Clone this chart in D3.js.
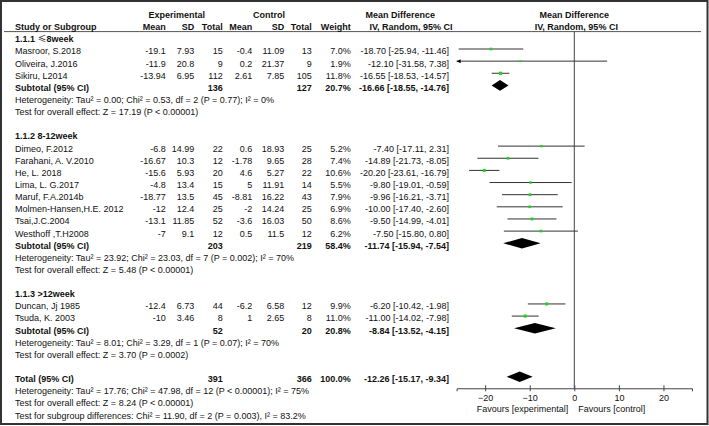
<!DOCTYPE html>
<html>
<head>
<meta charset="utf-8">
<script src="https://cdn.jsdelivr.net/npm/d3@7/dist/d3.min.js"></script>
<style>
  html, body { margin: 0; padding: 0; background: #fff; }
  svg { display: block; font-family: "Liberation Sans", Arial, sans-serif; }
</style>
</head>
<body>
<svg id="chart" width="709" height="426"></svg>
<script>
// ---------------- data ----------------
const studyNames = ["Masroor, S.2018", "Oliveira, J.2016", "Sikiru, L2014",
  "Dimeo, F.2012", "Farahani, A. V.2010", "He, L. 2018", "Lima, L. G.2017", "Maruf, F.A.2014b",
  "Molmen-Hansen,H.E. 2012", "Tsai,J.C.2004", "Westhoff ,T.H2008",
  "Duncan, Jj 1985", "Tsuda, K. 2003"];
const studyGroup = [0, 0, 0, 1, 1, 1, 1, 1, 1, 1, 1, 2, 2];
const expMean = [-19.1, -11.9, -13.94, -6.8, -16.67, -15.6, -4.8, -18.77, -12, -13.1, -7, -12.4, -10];
const expSD = [7.93, 20.8, 6.95, 14.99, 10.3, 5.93, 13.4, 13.5, 12.4, 11.85, 9.1, 6.73, 3.46];
const expTotal = [15, 9, 112, 22, 12, 20, 15, 45, 25, 52, 12, 44, 8];
const ctlMean = [-0.4, 0.2, 2.61, 0.6, -1.78, 4.6, 5, -8.81, -2, -3.6, 0.5, -6.2, 1];
const ctlSD = [11.09, 21.37, 7.85, 18.93, 9.65, 5.27, 11.91, 16.22, 14.24, 16.03, 11.5, 6.58, 2.65];
const ctlTotal = [13, 9, 105, 25, 28, 22, 14, 43, 25, 50, 12, 12, 8];
const weightPct = [7.0, 1.9, 11.8, 5.2, 7.4, 10.6, 5.5, 7.9, 6.9, 8.6, 6.2, 9.9, 11.0];
const mdEst = [-18.70, -12.10, -16.55, -7.40, -14.89, -20.20, -9.80, -9.96, -10.00, -9.50, -7.50, -6.20, -11.00];
const mdLow = [-25.94, -31.58, -18.53, -17.11, -21.73, -23.61, -19.01, -16.21, -17.40, -14.99, -15.80, -10.42, -14.02];
const mdHigh = [-11.46, 7.38, -14.57, 2.31, -8.05, -16.79, -0.59, -3.71, -2.60, -4.01, 0.80, -1.98, -7.98];

const groupPrefix = ["1.1.1 ", "1.1.2 ", "1.1.3 "];
const groupLabels = ["\u22648week", "8-12week", ">12week"];
const subExpTotal = [136, 203, 52];
const subCtlTotal = [127, 219, 20];
const subWeight = [20.7, 58.4, 20.8];
const subEst = [-16.66, -11.74, -8.84];
const subLow = [-18.55, -15.94, -13.52];
const subHigh = [-14.76, -7.54, -4.15];
const subHet = [
  "Heterogeneity: Tau\u00b2 = 0.00; Chi\u00b2 = 0.53, df = 2 (P = 0.77); I\u00b2 = 0%",
  "Heterogeneity: Tau\u00b2 = 23.92; Chi\u00b2 = 23.03, df = 7 (P = 0.002); I\u00b2 = 70%",
  "Heterogeneity: Tau\u00b2 = 8.01; Chi\u00b2 = 3.29, df = 1 (P = 0.07); I\u00b2 = 70%"];
const subZ = [
  "Test for overall effect: Z = 17.19 (P < 0.00001)",
  "Test for overall effect: Z = 5.48 (P < 0.00001)",
  "Test for overall effect: Z = 3.70 (P = 0.0002)"];

const totalExpN = 391, totalCtlN = 366, totalWeight = 100.0;
const totalEst = -12.26, totalLow = -15.17, totalHigh = -9.34;
const totalNotes = [
  "Heterogeneity: Tau\u00b2 = 17.76; Chi\u00b2 = 47.98, df = 12 (P < 0.00001); I\u00b2 = 75%",
  "Test for overall effect: Z = 8.24 (P < 0.00001)",
  "Test for subgroup differences: Chi\u00b2 = 11.90, df = 2 (P = 0.003), I\u00b2 = 83.2%"];

const tickValues = [-20, -10, 0, 10, 20];
const axisLimit = 26.4;
const favourLabels = ["Favours [experimental]", "Favours [control]"];

// ---------------- layout ----------------
const svg = d3.select("#chart");
const FS = 9;
const textColor = "#111";
const rowY = i => 12.58 + 12.14 * i;     // centre line of row i
const baseY = i => rowY(i) + 5.4;       // text baseline of row i

const x = d3.scaleLinear().domain([-axisLimit, axisLimit]).range([456.6, 692.0]);

const col = { name: 15, eMean: 165.7, eSD: 194.3, eTot: 222.7, cMean: 252.3, cSD: 284.3, cTot: 311.7, wt: 350.7, ci: 449 };

// build rows
const rows = [];
let r = 2;
groupLabels.forEach((gl, g) => {
  rows.push({ type: "group", i: r++, g });
  studyNames.forEach((n, s) => {
    if (studyGroup[s] === g) rows.push({ type: "study", i: r++, s });
  });
  rows.push({ type: "sub", i: r++, g });
  rows.push({ type: "note", i: r++, label: subHet[g] });
  rows.push({ type: "note", i: r++, label: subZ[g] });
  r++;
});
rows.push({ type: "total", i: r++ });
totalNotes.forEach(t => rows.push({ type: "note", i: r++, label: t }));
const totalRow = rows.find(d => d.type === "total").i;

// border
svg.append("rect").attr("x", 1).attr("y", 1).attr("width", 706.5).attr("height", 423)
  .attr("fill", "none").attr("stroke", "#333").attr("stroke-width", 2);

// header line
const headerLineY = 31.6;
svg.append("line").attr("x1", 4).attr("x2", 701).attr("y1", headerLineY).attr("y2", headerLineY)
  .attr("stroke", "#555").attr("stroke-width", 1);

function txt(xp, i, s, anchor, bold) {
  return svg.append("text").attr("x", xp).attr("y", baseY(i)).text(s)
    .attr("font-size", FS).attr("fill", textColor)
    .attr("text-anchor", anchor || "start").attr("font-weight", bold ? "bold" : "normal");
}

// headers
txt(176.7, 0, "Experimental", "middle", true);
txt(269, 0, "Control", "middle", true);
txt(400.3, 0, "Mean Difference", "middle", true);
txt(x(0), 0, "Mean Difference", "middle", true);
txt(col.name, 1, "Study or Subgroup", "start", true);
txt(col.eMean, 1, "Mean", "end", true);
txt(col.eSD, 1, "SD", "end", true);
txt(col.eTot, 1, "Total", "end", true);
txt(col.cMean, 1, "Mean", "end", true);
txt(col.cSD, 1, "SD", "end", true);
txt(col.cTot, 1, "Total", "end", true);
txt(col.wt, 1, "Weight", "end", true);
txt(411, 1, "IV, Random, 95% CI", "middle", true);
txt(x(0) + 2, 1, "IV, Random, 95% CI", "middle", true);

const f2 = v => v.toFixed(2);
const ciText = (e, l, h) => `${f2(e)} [${f2(l)}, ${f2(h)}]`;

// zero line
const axisY = rowY(totalRow) + 11.5;
svg.append("line").attr("x1", x(0)).attr("x2", x(0)).attr("y1", headerLineY).attr("y2", axisY)
  .attr("stroke", "#444").attr("stroke-width", 1);

const diamondH = 5.3;
function diamond(i, e, l, h) {
  const y = rowY(i);
  svg.append("path")
    .attr("d", `M${x(l)},${y} L${x(e)},${y - diamondH} L${x(h)},${y} L${x(e)},${y + diamondH} Z`)
    .attr("fill", "#000");
}

rows.forEach(d => {
  if (d.type === "group") {
    const t = txt(col.name, d.i, groupPrefix[d.g], "start", true);
    t.text(null);
    t.append("tspan").text(groupPrefix[d.g]);
    const lbl = groupLabels[d.g];
    if (lbl.startsWith("\u2264")) {
      t.append("tspan").attr("font-family", "Noto Sans CJK SC").attr("font-weight", "normal").text("\u2264");
      t.append("tspan").text(lbl.slice(1));
    } else {
      t.append("tspan").text(lbl);
    }
  } else if (d.type === "note") {
    txt(col.name, d.i, d.label, "start", false);
  } else if (d.type === "study") {
    const s = d.s;
    txt(col.name, d.i, studyNames[s]);
    txt(col.eMean, d.i, String(expMean[s]), "end");
    txt(col.eSD, d.i, String(expSD[s]), "end");
    txt(col.eTot, d.i, String(expTotal[s]), "end");
    txt(col.cMean, d.i, String(ctlMean[s]), "end");
    txt(col.cSD, d.i, String(ctlSD[s]), "end");
    txt(col.cTot, d.i, String(ctlTotal[s]), "end");
    txt(col.wt, d.i, weightPct[s].toFixed(1) + "%", "end");
    txt(col.ci, d.i, ciText(mdEst[s], mdLow[s], mdHigh[s]), "end");
    // CI line
    const y = rowY(d.i);
    const lo = Math.max(mdLow[s], -axisLimit), hi = Math.min(mdHigh[s], axisLimit);
    svg.append("line").attr("x1", x(lo)).attr("x2", x(hi)).attr("y1", y).attr("y2", y)
      .attr("stroke", "#333").attr("stroke-width", 1);
    if (mdLow[s] < -axisLimit) {
      const ax = x(-axisLimit);
      svg.append("path").attr("d", `M${ax},${y} L${ax + 4},${y - 2} L${ax + 4},${y + 2} Z`).attr("fill", "#000");
    }
    if (mdHigh[s] > axisLimit) {
      const ax = x(axisLimit);
      svg.append("path").attr("d", `M${ax},${y} L${ax - 4},${y - 2} L${ax - 4},${y + 2} Z`).attr("fill", "#000");
    }
    const side = 1.8 + weightPct[s] * 0.12;
    svg.append("rect").attr("x", x(mdEst[s]) - side / 2).attr("y", y - side / 2)
      .attr("width", side).attr("height", side).attr("fill", "#1fd21f");
  } else if (d.type === "sub") {
    const g = d.g;
    txt(col.name, d.i, "Subtotal (95% CI)", "start", true);
    txt(col.eTot, d.i, String(subExpTotal[g]), "end", true);
    txt(col.cTot, d.i, String(subCtlTotal[g]), "end", true);
    txt(col.wt, d.i, subWeight[g].toFixed(1) + "%", "end", true);
    txt(col.ci, d.i, ciText(subEst[g], subLow[g], subHigh[g]), "end", true);
    diamond(d.i, subEst[g], subLow[g], subHigh[g]);
  } else if (d.type === "total") {
    txt(col.name, d.i, "Total (95% CI)", "start", true);
    txt(col.eTot, d.i, String(totalExpN), "end", true);
    txt(col.cTot, d.i, String(totalCtlN), "end", true);
    txt(col.wt, d.i, totalWeight.toFixed(1) + "%", "end", true);
    txt(col.ci, d.i, ciText(totalEst, totalLow, totalHigh), "end", true);
    diamond(d.i, totalEst, totalLow, totalHigh);
  }
});

// axis
const axis = d3.axisBottom(x).tickValues(tickValues).tickFormat(d3.format("d")).tickSizeOuter(0).tickSize(3).tickPadding(3);
const gAxis = svg.append("g").attr("transform", `translate(0,${axisY})`).call(axis);
gAxis.select(".domain").attr("stroke", "#444");
gAxis.selectAll(".tick line").attr("y1", -3).attr("y2", 3).attr("stroke", "#444");
gAxis.selectAll(".tick text").attr("font-size", FS).attr("fill", textColor)
  .attr("font-family", "Liberation Sans, Arial, sans-serif");

svg.append("text").attr("x", x(0) - 6).attr("y", axisY + 23.5).attr("text-anchor", "end")
  .attr("font-size", FS).attr("fill", textColor).text(favourLabels[0]);
svg.append("text").attr("x", x(0) + 4).attr("y", axisY + 23.5).attr("text-anchor", "start")
  .attr("font-size", FS).attr("fill", textColor).text(favourLabels[1]);
</script>
</body>
</html>
